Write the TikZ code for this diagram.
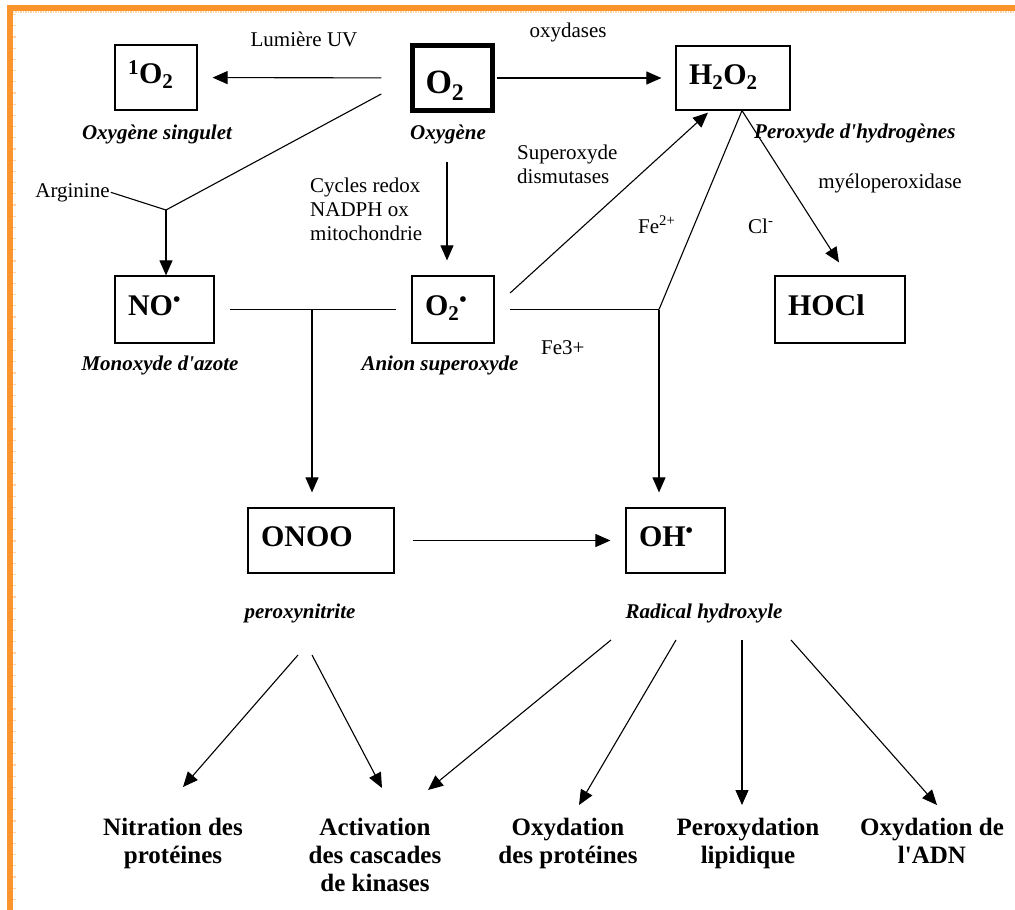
\documentclass[tikz,border=0pt]{standalone}
\usepackage{fontspec}
\setmainfont{Liberation Serif}
\usetikzlibrary{arrows.meta}
\definecolor{cadre}{RGB}{252,148,46}

\begin{document}
\begin{tikzpicture}[x=1pt,y=-1pt,
	espece/.style={draw, line width=1.2pt, inner xsep=13pt, inner ysep=0pt, align=left,
		font=\fontsize{30}{34}\selectfont\bfseries, text height=21pt, text depth=9pt},
	nom/.style={anchor=base, inner sep=1pt, font=\fontsize{21}{24}\selectfont\bfseries\itshape},
	txt/.style={anchor=base, inner sep=1pt, font=\fontsize{21}{24}\selectfont},
	effet/.style={anchor=north, inner sep=0pt, align=center, font=\fontsize{25}{28}\selectfont\bfseries},
	fl/.style={line width=1.1pt, -{Triangle[length=15pt,width=13pt]}},
	trait/.style={line width=1.1pt}]
	\useasboundingbox (0,0) rectangle (1015,910);
	\fill[cadre] (7,5) rectangle (1015,11);
	\fill[cadre] (7,5) rectangle (12.5,910);
	\draw[cadre!40, line width=1.5pt, dash pattern=on 1.5pt off 1pt] (12.5,12) -- (1015,12);
	\draw[cadre!40, line width=3pt, dash pattern=on 1.2pt off 10pt] (14,14) -- (14,910);

	\node[espece, minimum width=82pt, minimum height=65pt, text width=56pt] (1O2) at (156,77.5) {\textsuperscript{1}O\textsubscript{2}};
	\node[espece, line width=4.5pt, minimum width=80pt, minimum height=65pt, text width=54pt,
		font=\fontsize{34}{38}\selectfont\bfseries, text height=30pt, text depth=0pt] (O2) at (452.5,78) {O\textsubscript{2}};
	\node[espece, minimum width=114pt, minimum height=64pt, text width=88pt] (H2O2) at (733,78) {H\textsubscript{2}O\textsubscript{2}};
	\node[espece, minimum width=99pt, minimum height=67pt, text width=73pt] (NO) at (164.5,309.5) {NO\textsuperscript{•}};
	\node[espece, minimum width=82pt, minimum height=67pt, text width=56pt] (O2s) at (453,309.5) {O\textsubscript{2}\textsuperscript{•}};
	\node[espece, minimum width=130pt, minimum height=67pt, text width=104pt] (HOCl) at (840,309.5) {HOCl};
	\node[espece, minimum width=146pt, minimum height=65pt, text width=120pt] (ONOO) at (321,540.5) {ONOO};
	\node[espece, minimum width=99pt, minimum height=65pt, text width=73pt] (OH) at (675.5,540.5) {OH\textsuperscript{•}};

	\node[txt] (uv) at (304,46) {Lumière UV};
	\node[txt] (oxyd) at (568,37) {oxydases};
	\node[nom] (n1O2) at (157,139) {Oxygène singulet};
	\node[nom] (nO2) at (448,139) {Oxygène};
	\node[txt] (arg) at (72.5,197) {Arginine};
	\node[txt, anchor=base west, align=left] (cyc) at (309,240) {Cycles redox\\NADPH ox\\mitochondrie};
	\node[txt, anchor=base west, align=left] (sod) at (516,183) {Superoxyde\\dismutases};
	\node[nom, anchor=base west] (nH2O2) at (753,138) {Peroxyde d\textquotesingle hydrogènes};
	\node[txt] (mpo) at (890,188) {myéloperoxidase};
	\node[txt, anchor=base west] (fe2) at (637,233) {Fe\textsuperscript{2+}};
	\node[txt, anchor=base west] (cl) at (747,233) {Cl\textsuperscript{-}};
	\node[txt, anchor=base west] (fe3) at (540,354) {Fe3+};
	\node[nom] (nNO) at (160,370) {Monoxyde d\textquotesingle azote};
	\node[nom] (nO2s) at (440,370) {Anion superoxyde};
	\node[nom] (nONOO) at (300,618) {peroxynitrite};
	\node[nom] (nOH) at (704,618) {Radical hydroxyle};

	\node[effet] (nitr) at (173,818) {Nitration des\\protéines};
	\node[effet] (act) at (375,818) {Activation\\des cascades\\de kinases};
	\node[effet] (oxp) at (568,818) {Oxydation\\des protéines};
	\node[effet] (lip) at (748,818) {Peroxydation\\lipidique};
	\node[effet] (adn) at (932,818) {Oxydation de\\l\textquotesingle ADN};

	\coordinate (j1) at (166,210);
	\coordinate (j2) at (312,309.5);
	\coordinate (j3) at (659,309.5);
	\coordinate (pA) at (298,655);
	\coordinate (pB) at (312,655);
	\coordinate (rA) at (611,640);
	\coordinate (rB) at (676,640);
	\coordinate (rC) at (742,640);
	\coordinate (rD) at (791,640);

	\path (O2) edge[fl, shorten <=29pt, shorten >=15pt] (1O2);
	\path (O2) edge[fl, shorten <=2pt, shorten >=14pt] (H2O2);
	\path ([xshift=-29pt,yshift=-16pt]O2.west) edge[trait] (j1);
	\path (arg.east) edge[trait] (j1);
	\path (j1) edge[fl] (j1 |- NO.north);
	\path ([xshift=-5.5pt]O2.south) edge[fl, shorten <=49pt, shorten >=15pt] ([xshift=-6pt]O2s.north);
	\path (NO) edge[trait, shorten <=15pt, shorten >=15pt] (O2s);
	\path (j2) edge[fl, shorten >=15pt] (j2 |- ONOO.north);
	\path (O2s) edge[trait, shorten <=15pt] (j3);
	\path ([xshift=15.5pt,yshift=16.5pt]O2s.east) edge[fl] ([xshift=-25pt,yshift=-2pt]H2O2.south);
	\path ([xshift=9pt]H2O2.south) edge[trait] (j3);
	\path ([xshift=9pt]H2O2.south) edge[fl] ([xshift=-1pt,yshift=13pt]HOCl.north);
	\path (j3) edge[fl, shorten >=15pt] (j3 |- OH.north);
	\path (ONOO) edge[fl, shorten <=18pt, shorten >=15pt] (OH);

	\path (pA) edge[fl] ([xshift=10pt,yshift=31pt]nitr.north);
	\path (pB) edge[fl] ([xshift=7pt,yshift=30pt]act.north);
	\path (rA) edge[fl] ([xshift=53pt,yshift=28pt]act.north);
	\path (rB) edge[fl] ([xshift=11pt,yshift=13pt]oxp.north);
	\path (rC) edge[fl] ([xshift=-6pt,yshift=13pt]lip.north);
	\path (rD) edge[fl] ([xshift=5pt,yshift=13pt]adn.north);
\end{tikzpicture}
\end{document}
